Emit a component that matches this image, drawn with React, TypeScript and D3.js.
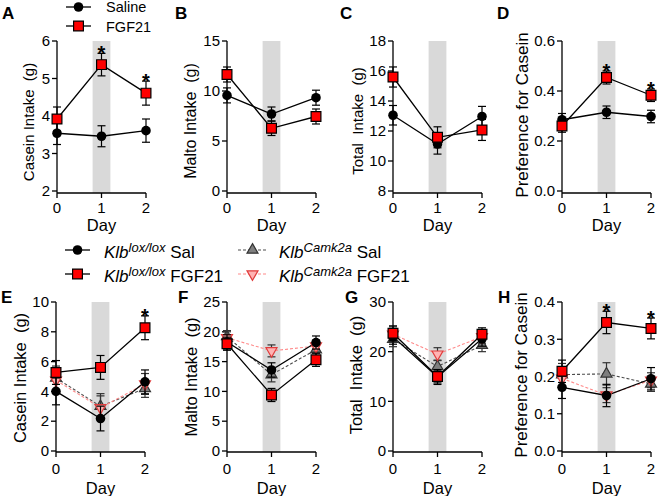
import * as d3 from "d3";

// days on the x axis
const DAYS = [0, 1, 2];

// top row: Saline vs FGF21
const casA_sal = [3.54, 3.46, 3.61];
const casA_salErr = [0.3, 0.28, 0.31];
const casA_fgf = [3.92, 5.37, 4.61];
const casA_fgfErr = [0.32, 0.3, 0.32];

const malB_sal = [9.56, 7.7, 9.33];
const malB_salErr = [0.75, 0.7, 0.75];
const malB_fgf = [11.65, 6.27, 7.45];
const malB_fgfErr = [0.75, 0.72, 0.75];

const totC_sal = [13.05, 11.13, 12.97];
const totC_salErr = [0.65, 0.67, 0.67];
const totC_fgf = [15.6, 11.58, 12.07];
const totC_fgfErr = [0.67, 0.7, 0.7];

const prefD_sal = [0.285, 0.315, 0.298];
const prefD_salErr = [0.025, 0.025, 0.025];
const prefD_fgf = [0.26, 0.454, 0.383];
const prefD_fgfErr = [0.025, 0.026, 0.025];

// bottom row: Klb lox/lox vs Klb Camk2a
const casE_loxSal = [4.0, 2.18, 4.64];
const casE_loxSalErr = [0.9, 0.83, 0.8];
const casE_loxFgf = [5.27, 5.61, 8.27];
const casE_loxFgfErr = [0.8, 0.8, 0.8];
const casE_camSal = [4.9, 3.0, 4.2];
const casE_camSalErr = [0.8, 0.85, 0.6];
const casE_camFgf = [4.75, 2.9, 4.5];
const casE_camFgfErr = [0.7, 0.8, 0.7];

const malF_loxSal = [18.3, 13.6, 18.2];
const malF_loxSalErr = [1.2, 1.2, 1.1];
const malF_loxFgf = [18.0, 9.4, 15.3];
const malF_loxFgfErr = [1.1, 1.1, 1.1];
const malF_camSal = [19.2, 12.8, 17.0];
const malF_camSalErr = [1.0, 1.2, 1.0];
const malF_camFgf = [19.0, 16.8, 17.6];
const malF_camFgfErr = [1.0, 1.0, 1.0];

const totG_loxSal = [23.0, 14.9, 22.6];
const totG_loxSalErr = [1.5, 1.5, 1.5];
const totG_loxFgf = [23.7, 15.0, 23.5];
const totG_loxFgfErr = [1.5, 1.3, 1.3];
const totG_camSal = [22.5, 17.0, 21.3];
const totG_camSalErr = [1.5, 1.3, 1.3];
const totG_camFgf = [23.5, 19.5, 23.0];
const totG_camFgfErr = [1.5, 1.3, 1.3];

const prefH_loxSal = [0.171, 0.149, 0.194];
const prefH_loxSalErr = [0.03, 0.03, 0.03];
const prefH_loxFgf = [0.214, 0.345, 0.329];
const prefH_loxFgfErr = [0.03, 0.03, 0.028];
const prefH_camSal = [0.205, 0.207, 0.18];
const prefH_camSalErr = [0.03, 0.03, 0.02];
const prefH_camFgf = [0.195, 0.15, 0.19];
const prefH_camFgfErr = [0.02, 0.02, 0.02];

const STYLE = {
  sal: { shape: "circle", fill: "#000", stroke: "#000", line: "#000", dash: null, err: "#000" },
  fgf: { shape: "square", fill: "#ff0000", stroke: "#000", line: "#000", dash: null, err: "#000" },
  camSal: { shape: "tri", fill: "#7f7f7f", stroke: "#333", line: "#4d4d4d", dash: "3,2", err: "#333" },
  camFgf: { shape: "triDown", fill: "#ffb3b3", stroke: "#e03c3c", line: "#ff8a8a", dash: "3,2", err: "#333" },
};

const ROWS = [
  { y0: 41, y1: 191, axisY: 193, tickBase: 213, dayBase: 231, letterY: 19 },
  { y0: 302, y1: 451, axisY: 452, tickBase: 474, dayBase: 494, letterY: 303 },
];
const COL_X = [[57, 227, 393, 562], [56, 227, 393, 562]];
const PLOT_W = 89;

const s = (key, values, errs) => ({ key, values, errs });

const panels = [
  { id: "A", row: 0, col: 0, letterX: 2, title: "Casein Intake  (g)", titleX: 34, titleY: 122, titleSize: 15,
    domain: [2, 6], ticks: [2, 3, 4, 5, 6], fmt: d3.format("d"), stars: [1, 2],
    series: [s("sal", casA_sal, casA_salErr), s("fgf", casA_fgf, casA_fgfErr)] },
  { id: "B", row: 0, col: 1, letterX: 175, title: "Malto Intake  (g)", titleX: 196, titleY: 121, titleSize: 16,
    domain: [0, 15], ticks: [0, 5, 10, 15], fmt: d3.format("d"), stars: [],
    series: [s("sal", malB_sal, malB_salErr), s("fgf", malB_fgf, malB_fgfErr)] },
  { id: "C", row: 0, col: 2, letterX: 340, title: "Total  Intake  (g)", titleX: 363, titleY: 121, titleSize: 15,
    domain: [8, 18], ticks: [8, 10, 12, 14, 16, 18], fmt: d3.format("d"), stars: [],
    series: [s("sal", totC_sal, totC_salErr), s("fgf", totC_fgf, totC_fgfErr)] },
  { id: "D", row: 0, col: 3, letterX: 497, title: "Preference for Casein", titleX: 528, titleY: 115, titleSize: 17,
    domain: [0, 0.6], ticks: [0, 0.2, 0.4, 0.6], fmt: d3.format(".1f"), stars: [1, 2],
    series: [s("sal", prefD_sal, prefD_salErr), s("fgf", prefD_fgf, prefD_fgfErr)] },
  { id: "E", row: 1, col: 0, letterX: 1, title: "Casein Intake  (g)", titleX: 26, titleY: 378, titleSize: 16.5,
    domain: [0, 10], ticks: [0, 2, 4, 6, 8, 10], fmt: d3.format("d"), stars: [2],
    series: [s("camSal", casE_camSal, casE_camSalErr), s("camFgf", casE_camFgf, casE_camFgfErr),
      s("sal", casE_loxSal, casE_loxSalErr), s("fgf", casE_loxFgf, casE_loxFgfErr)] },
  { id: "F", row: 1, col: 1, letterX: 178, title: "Malto Intake  (g)", titleX: 197, titleY: 377, titleSize: 16.5,
    domain: [0, 25], ticks: [0, 5, 10, 15, 20, 25], fmt: d3.format("d"), stars: [],
    series: [s("camSal", malF_camSal, malF_camSalErr), s("camFgf", malF_camFgf, malF_camFgfErr),
      s("sal", malF_loxSal, malF_loxSalErr), s("fgf", malF_loxFgf, malF_loxFgfErr)] },
  { id: "G", row: 1, col: 2, letterX: 345, title: "Total  Intake  (g)", titleX: 362, titleY: 375, titleSize: 16.5,
    domain: [0, 30], ticks: [0, 10, 20, 30], fmt: d3.format("d"), stars: [],
    series: [s("camSal", totG_camSal, totG_camSalErr), s("camFgf", totG_camFgf, totG_camFgfErr),
      s("sal", totG_loxSal, totG_loxSalErr), s("fgf", totG_loxFgf, totG_loxFgfErr)] },
  { id: "H", row: 1, col: 3, letterX: 498, title: "Preference for Casein", titleX: 527, titleY: 375, titleSize: 17,
    domain: [0, 0.4], ticks: [0, 0.1, 0.2, 0.3, 0.4], fmt: d3.format(".1f"), stars: [1, 2],
    series: [s("camSal", prefH_camSal, prefH_camSalErr), s("camFgf", prefH_camFgf, prefH_camFgfErr),
      s("sal", prefH_loxSal, prefH_loxSalErr), s("fgf", prefH_loxFgf, prefH_loxFgfErr)] },
];

const FONT = "Arial, 'Liberation Sans', Helvetica, sans-serif";

const markerPath = (shape) => {
  if (shape === "circle") return d3.symbol(d3.symbolCircle, 72)();
  if (shape === "square") return d3.symbol(d3.symbolSquare, 96)();
  return d3.symbol(d3.symbolTriangle, 52)();
};

const Marker = ({ x, y, st }) => (
  <path
    d={markerPath(st.shape)}
    transform={`translate(${x},${y})${st.shape === "triDown" ? " rotate(180)" : ""}`}
    fill={st.fill}
    stroke={st.stroke}
    strokeWidth={st.shape === "circle" ? 0 : 1.2}
  />
);

const Panel = ({ p }) => {
  const row = ROWS[p.row];
  const x0 = COL_X[p.row][p.col];
  const x = d3.scaleLinear().domain([0, 2]).range([x0, x0 + PLOT_W]);
  const y = d3.scaleLinear().domain(p.domain).range([row.y1, row.y0]);
  const line = d3.line().x((d, i) => x(DAYS[i])).y((d) => y(d));

  return (
    <g fontFamily={FONT}>
      <text x={p.letterX} y={row.letterY} fontSize={17} fontWeight="bold">{p.id}</text>
      {/* FGF21 injection day */}
      <rect x={x(0.8)} y={row.y0} width={x(1.2) - x(0.8)} height={row.axisY - row.y0} fill="#d9d9d9" />

      {/* y axis */}
      <line x1={x0} x2={x0} y1={row.y0} y2={row.axisY} stroke="#000" strokeWidth={1.3} />
      {p.ticks.map((t) => (
        <g key={t}>
          <line x1={x0 - 5} x2={x0} y1={y(t)} y2={y(t)} stroke="#000" strokeWidth={1.3} />
          <text x={x0 - 7} y={y(t)} dy="0.35em" textAnchor="end" fontSize={15}>{p.fmt(t)}</text>
        </g>
      ))}
      {/* x axis */}
      <line x1={x0} x2={x(2)} y1={row.axisY} y2={row.axisY} stroke="#000" strokeWidth={1.3} />
      {DAYS.map((d) => (
        <g key={d}>
          <line x1={x(d)} x2={x(d)} y1={row.axisY} y2={row.axisY + 5} stroke="#000" strokeWidth={1.3} />
          <text x={x(d)} y={row.tickBase} textAnchor="middle" fontSize={15}>{d}</text>
        </g>
      ))}
      <text x={x(1)} y={row.dayBase} textAnchor="middle" fontSize={16.5}>Day</text>
      <text
        transform={`translate(${p.titleX},${p.titleY}) rotate(-90)`}
        textAnchor="middle"
        fontSize={p.titleSize}
        style={{ whiteSpace: "pre" }}
      >
        {p.title}
      </text>

      {/* connecting lines */}
      {p.series.map((se) => {
        const st = STYLE[se.key];
        return (
          <path key={se.key} d={line(se.values)} fill="none" stroke={st.line}
            strokeWidth={st.dash ? 1.1 : 1.3} strokeDasharray={st.dash || undefined} />
        );
      })}
      {/* error bars and markers */}
      {p.series.map((se) => {
        const st = STYLE[se.key];
        return (
          <g key={se.key}>
            {se.values.map((v, i) => {
              const cx = x(DAYS[i]);
              const top = y(v + se.errs[i]);
              const bot = y(v - se.errs[i]);
              return (
                <g key={i} stroke={st.err} strokeWidth={1.2}>
                  <line x1={cx} x2={cx} y1={top} y2={bot} />
                  <line x1={cx - 4} x2={cx + 4} y1={top} y2={top} />
                  <line x1={cx - 4} x2={cx + 4} y1={bot} y2={bot} />
                </g>
              );
            })}
            {se.values.map((v, i) => (
              <Marker key={"m" + i} x={x(DAYS[i])} y={y(v)} st={st} />
            ))}
          </g>
        );
      })}
      {/* significance stars */}
      {p.stars.map((d) => {
        const top = d3.min(p.series, (se) => y(se.values[d] + se.errs[d]));
        return (
          <text key={d} x={x(d)} y={top + 7} textAnchor="middle" fontSize={20} fontWeight="bold">*</text>
        );
      })}
    </g>
  );
};

const LegendItem = ({ x1, x2, y, st, children, textX, base, size }) => (
  <g>
    <line x1={x1} x2={x2} y1={y} y2={y} stroke={st.line} strokeWidth={st.dash ? 1.1 : 1.3}
      strokeDasharray={st.dash || undefined} />
    <Marker x={(x1 + x2) / 2} y={y} st={st} />
    <text x={textX} y={base} fontSize={size} fontFamily={FONT} style={{ whiteSpace: "pre" }}>{children}</text>
  </g>
);

const Klb = ({ sup, rest }) => (
  <>
    <tspan fontStyle="italic">Klb</tspan>
    <tspan fontStyle="italic" fontSize={13} dy={-6}>{sup}</tspan>
    <tspan dy={6}>{" " + rest}</tspan>
  </>
);

export default function App() {
  return (
    <svg width={662} height={496} style={{ position: "absolute", left: 0, top: 0, background: "#fff" }}>
      {/* top legend */}
      <LegendItem x1={66} x2={91} y={7} st={STYLE.sal} textX={106} base={12} size={14.5}>Saline</LegendItem>
      <LegendItem x1={66} x2={91} y={26} st={STYLE.fgf} textX={106} base={32} size={14.5}>FGF21</LegendItem>

      {/* bottom legend */}
      <LegendItem x1={65} x2={90} y={250} st={STYLE.sal} textX={104} base={258} size={17}>
        <Klb sup="lox/lox" rest="Sal" />
      </LegendItem>
      <LegendItem x1={65} x2={90} y={274} st={STYLE.fgf} textX={104} base={282} size={17}>
        <Klb sup="lox/lox" rest="FGF21" />
      </LegendItem>
      <LegendItem x1={238} x2={267} y={250} st={STYLE.camSal} textX={279} base={258} size={17}>
        <Klb sup="Camk2a" rest="Sal" />
      </LegendItem>
      <LegendItem x1={238} x2={267} y={274} st={STYLE.camFgf} textX={279} base={282} size={17}>
        <Klb sup="Camk2a" rest="FGF21" />
      </LegendItem>

      {panels.map((p) => (
        <Panel key={p.id} p={p} />
      ))}
    </svg>
  );
}
